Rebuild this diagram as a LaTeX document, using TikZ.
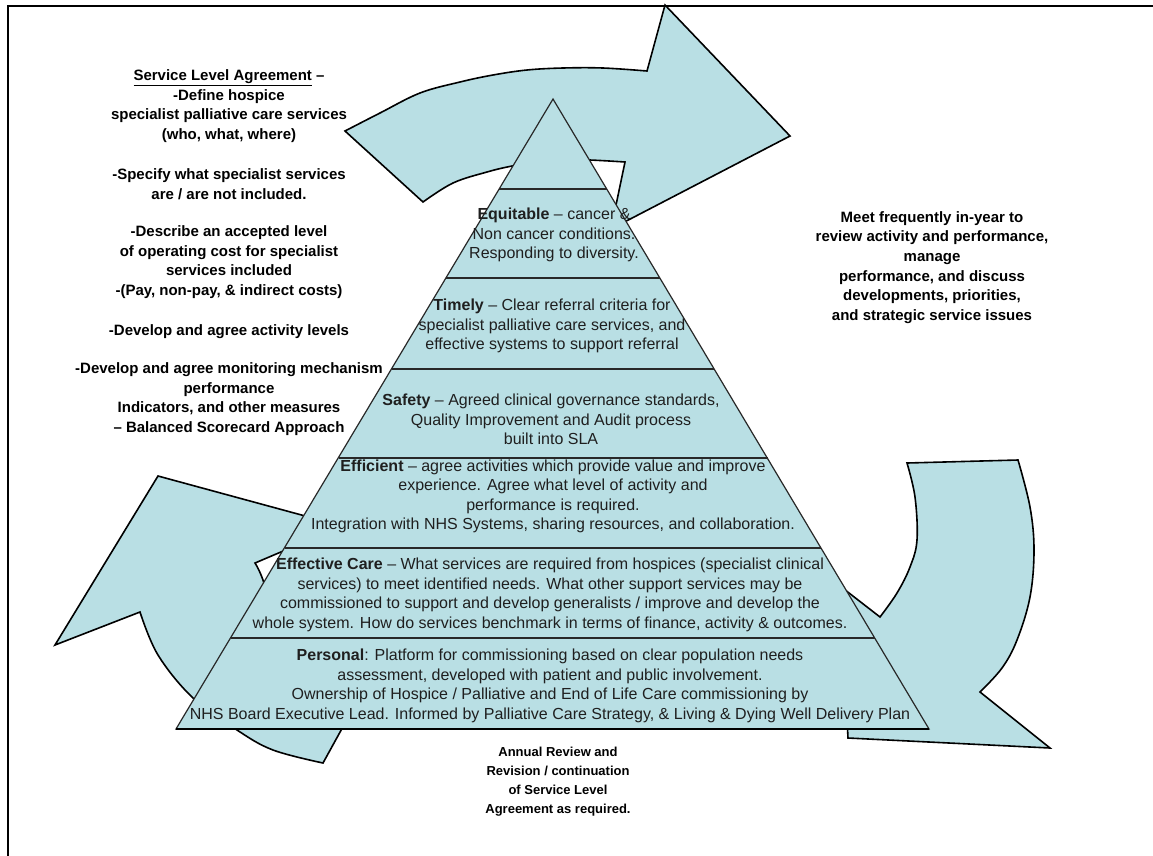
\documentclass[tikz,border=0pt]{standalone}
\usepackage{fontspec}
\setmainfont{Liberation Sans}
\definecolor{arrowfill}{RGB}{185,223,228}
\definecolor{edgegray}{RGB}{40,40,40}
\tikzset{
  blockarrow/.style={fill=arrowfill, draw=black, line width=1.6pt, line join=miter},
  pyramidshape/.style={fill=arrowfill, draw=edgegray, line width=1.2pt},
  tierline/.style={draw=edgegray, line width=1.2pt},
  pyrtext/.style={align=center, inner sep=0pt, text=black!88, font=\fontsize{16}{19.5}\selectfont},
  sidetext/.style={align=center, inner sep=0pt, font=\bfseries\fontsize{15}{19.7}\selectfont},
  bottomtext/.style={align=center, inner sep=0pt, font=\bfseries\fontsize{13}{19}\selectfont},
  framestyle/.style={draw=black, line width=2pt}
}
\begin{document}
\begin{tikzpicture}[x=1pt,y=-1pt]
\useasboundingbox (0,0) rectangle (1153,855);
\fill[white] (0,0) rectangle (1153,855);
% frame
\draw[framestyle] (1160,6) -- (8,6) -- (8,870);

% top arrow
\filldraw[blockarrow] plot[smooth, tension=0.6] coordinates {(345,131) (380,113) (420,93) (460,82) (493,75) (527,70) (563,68) (603,68) (647,71)}
  -- (665,5) -- (790,136) -- (611,229) -- (625,162)
  -- plot[smooth, tension=0.6] coordinates {(625,162) (590,160) (550,159) (512,166) (487,172) (453,183) (423,202)}
  -- cycle;

% right arrow
\filldraw[blockarrow] plot[smooth, tension=0.6] coordinates {(1018,460) (1030,507) (1034,550) (1030,597) (1017,640) (1002,668) (980,692)}
  -- (1050,748) -- (848,738) -- (840,586) -- (880,617)
  -- plot[smooth, tension=0.6] coordinates {(880,617) (897,593) (910,567) (917,540) (915,497) (907,463)}
  -- cycle;

% left arrow
\filldraw[blockarrow] (158,476) -- (342,526) -- (255,563)
  -- plot[smooth, tension=0.6] coordinates {(255,563) (264,583) (280,640) (310,690) (350,714)}
  -- (323,763)
  -- plot[smooth, tension=0.6] coordinates {(323,763) (273,750) (237,730) (193,698) (158,655) (140,612)}
  -- (55,645) -- cycle;

% pyramid
\filldraw[pyramidshape] (553,99) -- (929,729) -- (176,729) -- cycle;
\draw[tierline] (499.2,189) -- (606.8,189);
\draw[tierline] (446.0,278) -- (660.0,278);
\draw[tierline] (391.6,369) -- (714.4,369);
\draw[tierline] (338.5,458) -- (767.5,458);
\draw[tierline] (284.7,548) -- (821.3,548);
\draw[tierline] (230.9,638) -- (875.1,638);
\draw[draw=black, line width=2pt] (176,729) -- (929,729);

% pyramid texts
\node[pyrtext] (equitable) at (554,235) {\textbf{Equitable} – cancer \&\\ Non cancer conditions.\\ Responding to diversity.};
\node[pyrtext] (timely) at (552,326) {\textbf{Timely} – Clear referral criteria for\\ specialist palliative care services, and\\ effective systems to support referral};
\node[pyrtext] (safety) at (551,419.5) {\textbf{Safety} – Agreed clinical governance standards,\\ Quality Improvement and Audit process\\ built into SLA};
\node[pyrtext] (efficient) at (553,496.5) {\textbf{Efficient} – agree activities which provide value and improve\\ experience. Agree what level of activity and\\ performance is required.\\ Integration with NHS Systems, sharing resources, and collaboration.};
\node[pyrtext] (effective) at (550,595) {\textbf{Effective Care} – What services are required from hospices (specialist clinical\\ services) to meet identified needs. What other support services may be\\ commissioned to support and develop generalists / improve and develop the\\ whole system. How do services benchmark in terms of finance, activity \& outcomes.};
\node[pyrtext] (personal) at (550,686) {\textbf{Personal}: Platform for commissioning based on clear population needs\\ assessment, developed with patient and public involvement.\\ Ownership of Hospice / Palliative and End of Life Care commissioning by\\ NHS Board Executive Lead. Informed by Palliative Care Strategy, \& Living \& Dying Well Delivery Plan};

% left texts
\node[sidetext] (sla) at (229,106) {\underline{Service Level Agreement} –\\ -Define hospice\\ specialist palliative care services\\ (who, what, where)};
\node[sidetext] (specify) at (229,184) {-Specify what specialist services\\ are / are not included.};
\node[sidetext] (describe) at (229,262) {-Describe an accepted level\\ of operating cost for specialist\\ services included\\ -(Pay, non-pay, \& indirect costs)};
\node[sidetext] (activity) at (229,332) {-Develop and agree activity levels};
\node[sidetext] (monitor) at (229,399) {-Develop and agree monitoring mechanism\\ performance\\ Indicators, and other measures\\ – Balanced Scorecard Approach};

% right text
\node[sidetext] (meet) at (932,267.5) {Meet frequently in-year to\\ review activity and performance,\\ manage\\ performance, and discuss\\ developments, priorities,\\ and strategic service issues};

% bottom text
\node[bottomtext] (annual) at (558,781.5) {Annual Review and\\ Revision / continuation\\ of Service Level\\ Agreement as required.};
\end{tikzpicture}
\end{document}
